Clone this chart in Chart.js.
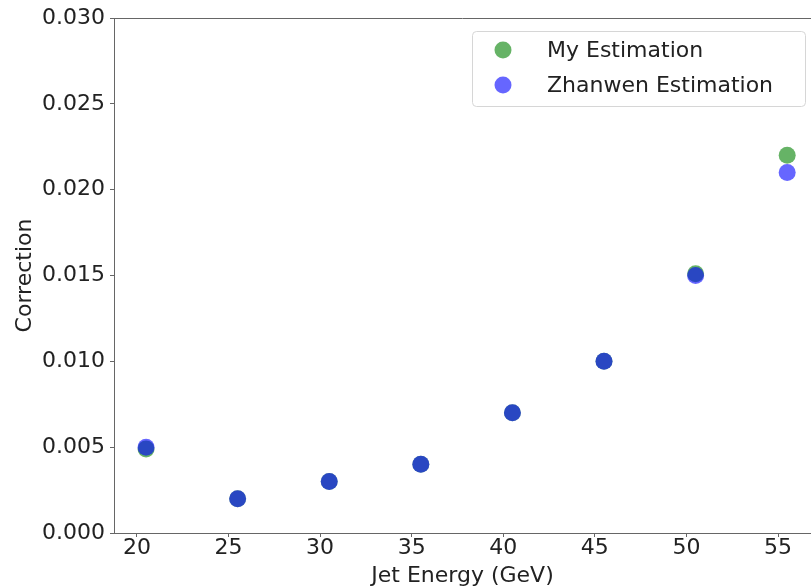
<!DOCTYPE html>
<html>
<head>
<meta charset="utf-8">
<script src="https://cdn.jsdelivr.net/npm/chart.js@4.4.1/dist/chart.umd.min.js"></script>
<style>
  html, body { margin: 0; padding: 0; background: #fff; overflow: hidden; }
  #wrap { width: 811px; height: 587px; }
</style>
</head>
<body>
<div id="wrap"><canvas id="canevas" width="811" height="587"></canvas></div>
<script>
// jet energy bins (GeV) and the two correction estimates
var energies = [20.5, 25.5, 30.5, 35.5, 40.5, 45.5, 50.5, 55.5];
var myEstimation = [0.0049, 0.002, 0.003, 0.004, 0.007, 0.010, 0.0151, 0.022];
var zhanwenEstimation = [0.005, 0.002, 0.003, 0.004, 0.007, 0.010, 0.015, 0.021];

var xTicks = [20, 25, 30, 35, 40, 45, 50, 55];
var yTicks = [0, 0.005, 0.010, 0.015, 0.020, 0.025, 0.030];

var FONT = '"DejaVu Sans", Verdana, sans-serif';
var AXIS = '#666';

function points(ys) {
	return energies.map(function (x, i) { return {x: x, y: ys[i]}; });
}

// top spine of the frame
var topSpine = {
	id: 'topSpine',
	afterDraw: function (chart) {
		var a = chart.chartArea, ctx = chart.ctx;
		ctx.save();
		ctx.strokeStyle = AXIS;
		ctx.lineWidth = 1;
		ctx.beginPath();
		ctx.moveTo(a.left, a.top + 0.5);
		ctx.lineTo(a.right, a.top + 0.5);
		ctx.stroke();
		ctx.restore();
	}
};

// boxed legend in the upper right corner of the plot
var boxLegend = {
	id: 'boxLegend',
	afterDraw: function (chart) {
		var ctx = chart.ctx;
		var x = 472, y = 31, w = 333, h = 75, r = 4;
		ctx.save();
		ctx.beginPath();
		ctx.roundRect(x + 0.5, y + 0.5, w, h, r);
		ctx.fillStyle = 'rgba(255,255,255,0.8)';
		ctx.fill();
		ctx.strokeStyle = '#d6d6d6';
		ctx.lineWidth = 1;
		ctx.stroke();
		ctx.font = '22px ' + FONT;
		ctx.textBaseline = 'middle';
		ctx.textAlign = 'left';
		chart.data.datasets.forEach(function (ds, i) {
			var cy = 50 + i * 35;
			ctx.beginPath();
			ctx.arc(503, cy, 8.5, 0, Math.PI * 2);
			ctx.fillStyle = ds.backgroundColor;
			ctx.fill();
			ctx.fillStyle = '#222';
			ctx.fillText(ds.label, 547, cy + 1);
		});
		ctx.restore();
	}
};

var c = document.getElementById('canevas');
var ctxD = c.getContext('2d');
var chart = new Chart(ctxD, {
	type: 'scatter',
	data: {
		datasets: [
			{
				label: 'My Estimation',
				data: points(myEstimation),
				backgroundColor: 'rgba(0,128,0,0.6)',
				borderWidth: 0,
				pointRadius: 8.5,
				order: 1
			},
			{
				label: 'Zhanwen Estimation',
				data: points(zhanwenEstimation),
				backgroundColor: 'rgba(0,0,255,0.6)',
				borderWidth: 0,
				pointRadius: 8.5,
				order: 0
			}
		]
	},
	options: {
		responsive: false,
		animation: false,
		devicePixelRatio: 1,
		layout: { autoPadding: false, padding: { top: 18, right: 0, bottom: 0, left: 0 } },
		plugins: {
			legend: { display: false },
			tooltip: { enabled: false }
		},
		scales: {
			x: {
				type: 'linear',
				min: 18.75,
				max: 56.8,
				afterBuildTicks: function (s) { s.ticks = xTicks.map(function (v) { return {value: v}; }); },
				afterFit: function (s) { s.height = 54; s.paddingLeft = 0; s.paddingRight = 0; },
				grid: { drawOnChartArea: false, tickLength: 4, tickColor: AXIS },
				border: { display: true, color: AXIS, width: 1 },
				ticks: { color: '#222', padding: 0, maxRotation: 0, font: { family: FONT, size: 22, lineHeight: 1 } },
				title: {
					display: true,
					text: 'Jet Energy (GeV)',
					color: '#222',
					font: { family: FONT, size: 22, lineHeight: 1.2 },
					padding: { top: 0, bottom: -2 }
				}
			},
			y: {
				min: 0,
				max: 0.030,
				afterBuildTicks: function (s) { s.ticks = yTicks.map(function (v) { return {value: v}; }); },
				afterFit: function (s) { s.width = 114; s.paddingTop = 0; s.paddingBottom = 0; },
				grid: { drawOnChartArea: false, tickLength: 4, tickColor: AXIS },
				border: { display: true, color: AXIS, width: 1 },
				ticks: {
					color: '#222',
					padding: 5,
					font: { family: FONT, size: 22, lineHeight: 1 },
					callback: function (v) { return Number(v).toFixed(3); }
				},
				title: {
					display: true,
					text: 'Correction',
					color: '#222',
					font: { family: FONT, size: 22, lineHeight: 1.2 },
					padding: { top: 12, bottom: 0 }
				}
			}
		}
	},
	plugins: [topSpine, boxLegend]
});
</script>
</body>
</html>
